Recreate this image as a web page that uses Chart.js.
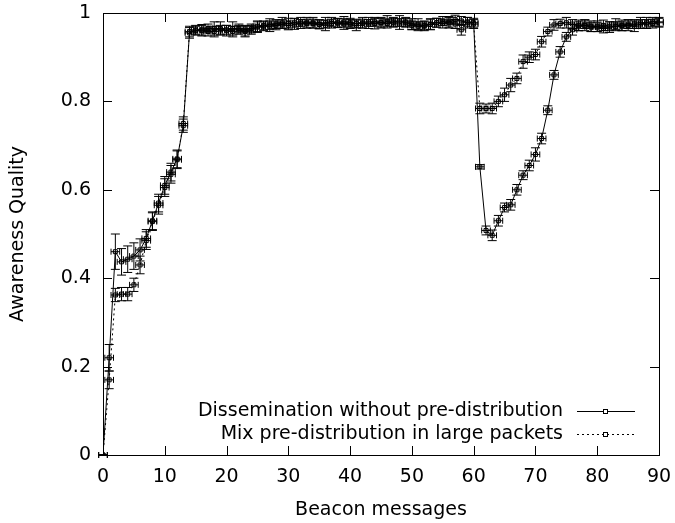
<!DOCTYPE html>
<html>
<head>
<meta charset="utf-8">
<script src="https://cdn.jsdelivr.net/npm/chart.js@4"></script>
<style>
  html, body { margin: 0; padding: 0; background: #fff; }
  #wrap { width: 675px; height: 523px; }
</style>
</head>
<body>
<div id="wrap"><canvas id="chart"></canvas></div>
<script>
const beacons = [0,1,2,3,4,5,6,7,8,9,10,11,12,13,14,15,16,17,18,19,20,21,22,23,24,25,26,27,28,29,
  30,31,32,33,34,35,36,37,38,39,40,41,42,43,44,45,46,47,48,49,50,51,52,53,54,55,56,57,58,59,
  60,61,62,63,64,65,66,67,68,69,70,71,72,73,74,75,76,77,78,79,80,81,82,83,84,85,86,87,88,89,90];

// Dissemination without pre-distribution
const noPredist = [0,0.22,0.46,0.437,0.443,0.45,0.464,0.49,0.53,0.57,0.61,0.64,0.67,0.745,0.955,
  0.96,0.962,0.958,0.965,0.962,0.96,0.965,0.962,0.958,0.965,0.968,0.97,0.975,0.972,0.975,
  0.976,0.978,0.975,0.978,0.976,0.974,0.978,0.98,0.977,0.975,0.978,0.976,0.978,0.975,0.98,
  0.978,0.976,0.98,0.982,0.978,0.975,0.97,0.972,0.975,0.978,0.976,0.98,0.985,0.982,0.978,
  0.978,0.652,0.508,0.497,0.53,0.56,0.566,0.6,0.633,0.655,0.68,0.716,0.78,0.86,0.912,
  0.946,0.962,0.97,0.972,0.968,0.97,0.965,0.968,0.97,0.972,0.975,0.97,0.975,0.978,0.976,0.98];
const noPredistErr = [0,0.03,0.04,0.03,0.03,0.03,0.025,0.02,0.02,0.02,0.02,0.02,0.02,0.015,0.012,
  0.01,0.012,0.01,0.015,0.01,0.012,0.015,0.01,0.012,0.01,0.012,0.01,0.012,0.01,0.01,
  0.012,0.01,0.01,0.012,0.01,0.01,0.012,0.01,0.01,0.012,0.01,0.01,0.012,0.01,0.01,
  0.012,0.01,0.01,0.012,0.01,0.012,0.01,0.01,0.012,0.01,0.01,0.012,0.01,0.01,0.012,
  0.01,0.005,0.01,0.012,0.012,0.01,0.012,0.012,0.01,0.012,0.015,0.012,0.01,0.01,0.012,
  0.01,0.012,0.01,0.012,0.01,0.012,0.01,0.012,0.01,0.012,0.01,0.012,0.01,0.012,0.01,0.01];

// Mix pre-distribution in large packets
const mixPredist = [0,0.17,0.362,0.364,0.364,0.385,0.43,0.485,0.528,0.565,0.605,0.635,0.668,0.75,0.958,
  0.962,0.96,0.965,0.958,0.965,0.962,0.958,0.965,0.96,0.962,0.97,0.972,0.97,0.975,0.978,
  0.972,0.975,0.98,0.976,0.978,0.975,0.972,0.976,0.978,0.98,0.975,0.972,0.976,0.98,0.976,
  0.978,0.982,0.978,0.975,0.98,0.972,0.975,0.97,0.974,0.978,0.982,0.978,0.975,0.962,0.98,
  0.975,0.784,0.784,0.784,0.8,0.815,0.837,0.852,0.89,0.9,0.906,0.935,0.958,0.973,0.976,
  0.978,0.975,0.972,0.975,0.97,0.968,0.972,0.97,0.975,0.97,0.972,0.975,0.978,0.975,0.98,0.978];
const mixPredistErr = [0,0.02,0.015,0.015,0.015,0.015,0.02,0.02,0.02,0.02,0.02,0.02,0.02,0.015,0.012,
  0.01,0.012,0.01,0.012,0.015,0.01,0.012,0.01,0.012,0.01,0.012,0.01,0.012,0.01,0.012,
  0.01,0.012,0.01,0.01,0.012,0.01,0.012,0.01,0.01,0.012,0.01,0.012,0.01,0.01,0.012,
  0.01,0.012,0.01,0.012,0.01,0.01,0.012,0.01,0.012,0.01,0.01,0.012,0.01,0.012,0.01,
  0.01,0.012,0.01,0.012,0.012,0.015,0.015,0.012,0.015,0.012,0.012,0.012,0.01,0.012,0.01,
  0.012,0.01,0.012,0.01,0.012,0.01,0.012,0.01,0.012,0.01,0.012,0.01,0.012,0.01,0.01,0.01];

const xErr = 0.7;
const xTicks = [0,10,20,30,40,50,60,70,80,90];
const yTicks = [0,0.2,0.4,0.6,0.8,1];

const FONT = 'DejaVu Sans';
const FSIZE = 19;

function toPoints(ys) {
  return beacons.map((x, i) => ({ x: x, y: ys[i] }));
}

// gnuplot-ish xy error bars
const errorBars = {
  id: 'errorBars',
  beforeDatasetsDraw(chart) {
    const { ctx } = chart;
    const xs = chart.scales.x, ys = chart.scales.y;
    const errs = [noPredistErr, mixPredistErr];
    const vals = [noPredist, mixPredist];
    ctx.save();
    ctx.strokeStyle = '#000';
    ctx.lineWidth = 1;
    ctx.setLineDash([]);
    vals.forEach((arr, d) => {
      arr.forEach((v, i) => {
        const px = xs.getPixelForValue(beacons[i]);
        const py = ys.getPixelForValue(v);
        const top = ys.getPixelForValue(v + errs[d][i]);
        const bot = ys.getPixelForValue(v - errs[d][i]);
        const l = xs.getPixelForValue(beacons[i] - xErr);
        const r = xs.getPixelForValue(beacons[i] + xErr);
        ctx.beginPath();
        ctx.moveTo(px, top); ctx.lineTo(px, bot);
        ctx.moveTo(px - 4.5, top); ctx.lineTo(px + 4.5, top);
        ctx.moveTo(px - 4.5, bot); ctx.lineTo(px + 4.5, bot);
        ctx.moveTo(l, py); ctx.lineTo(r, py);
        ctx.moveTo(l, py - 3); ctx.lineTo(l, py + 3);
        ctx.moveTo(r, py - 3); ctx.lineTo(r, py + 3);
        ctx.stroke();
      });
    });
    ctx.restore();
  }
};

// border box, inward ticks, legend
const frame = {
  id: 'frame',
  afterDraw(chart) {
    const { ctx, chartArea: a } = chart;
    const xs = chart.scales.x, ys = chart.scales.y;
    ctx.save();
    ctx.strokeStyle = '#000';
    ctx.lineWidth = 1;
    ctx.strokeRect(Math.round(a.left) + 0.5, Math.round(a.top) + 0.5,
      Math.round(a.right - a.left), Math.round(a.bottom - a.top));
    ctx.beginPath();
    xTicks.forEach(t => {
      const p = Math.round(xs.getPixelForValue(t)) + 0.5;
      ctx.moveTo(p, a.bottom); ctx.lineTo(p, a.bottom - 9);
      ctx.moveTo(p, a.top); ctx.lineTo(p, a.top + 9);
    });
    yTicks.forEach(t => {
      const p = Math.round(ys.getPixelForValue(t)) + 0.5;
      ctx.moveTo(a.left, p); ctx.lineTo(a.left + 9, p);
      ctx.moveTo(a.right, p); ctx.lineTo(a.right - 9, p);
    });
    ctx.stroke();

    // legend
    ctx.font = FSIZE + 'px "' + FONT + '"';
    ctx.fillStyle = '#000';
    ctx.textAlign = 'right';
    ctx.textBaseline = 'middle';
    const rows = [
      { label: 'Dissemination without pre-distribution', dash: [], y: 411 },
      { label: 'Mix pre-distribution in large packets', dash: [2, 3], y: 434 }
    ];
    rows.forEach(r => {
      ctx.fillText(r.label, 563, r.y);
      ctx.setLineDash(r.dash);
      ctx.beginPath();
      ctx.moveTo(577, r.y + 0.5); ctx.lineTo(635, r.y + 0.5);
      ctx.stroke();
      ctx.setLineDash([]);
      ctx.fillStyle = '#fff';
      ctx.fillRect(603, r.y - 2, 5, 5);
      ctx.strokeRect(603.5, r.y - 1.5, 4, 4);
      ctx.fillStyle = '#000';
    });
    ctx.restore();
  }
};

new Chart(document.getElementById('chart'), {
  type: 'scatter',
  data: {
    datasets: [
      {
        label: 'Dissemination without pre-distribution',
        data: toPoints(noPredist),
        showLine: true,
        borderColor: '#000',
        borderWidth: 1,
        pointStyle: 'rect',
        pointRadius: 2.8,
        pointBorderWidth: 1,
        pointBorderColor: '#000',
        pointBackgroundColor: 'rgba(0,0,0,0)'
      },
      {
        label: 'Mix pre-distribution in large packets',
        data: toPoints(mixPredist),
        showLine: true,
        borderColor: '#000',
        borderWidth: 1,
        borderDash: [2, 3],
        pointStyle: 'rect',
        pointRadius: 2.8,
        pointBorderWidth: 1,
        pointBorderColor: '#000',
        pointBackgroundColor: 'rgba(0,0,0,0)'
      }
    ]
  },
  options: {
    responsive: true,
    maintainAspectRatio: false,
    animation: false,
    layout: { padding: { left: 0, top: 13, right: 16, bottom: 0 } },
    plugins: {
      legend: { display: false },
      tooltip: { enabled: false }
    },
    scales: {
      x: {
        type: 'linear',
        min: 0, max: 90,
        afterBuildTicks: s => { s.ticks = xTicks.map(v => ({ value: v })); },
        afterFit: s => { s.height = 68; s.paddingLeft = 0; s.paddingRight = 0; },
        grid: { display: false, drawTicks: false },
        border: { display: false },
        ticks: { color: '#000', font: { family: FONT, size: FSIZE }, padding: 11, maxRotation: 0,
          callback: v => String(v) },
        title: { display: true, text: 'Beacon messages', color: '#000', font: { family: FONT, size: FSIZE }, padding: { top: 4, bottom: 2 } }
      },
      y: {
        type: 'linear',
        min: 0, max: 1,
        afterBuildTicks: s => { s.ticks = yTicks.map(v => ({ value: v })); },
        afterFit: s => { s.width = 103; s.paddingTop = 0; s.paddingBottom = 0; },
        grid: { display: false, drawTicks: false },
        border: { display: false },
        ticks: { color: '#000', font: { family: FONT, size: FSIZE }, padding: 12,
          callback: v => String(v) },
        title: { display: true, text: 'Awareness Quality', color: '#000', font: { family: FONT, size: FSIZE }, padding: { top: 7, bottom: 0 } }
      }
    }
  },
  plugins: [errorBars, frame]
});
</script>
</body>
</html>
